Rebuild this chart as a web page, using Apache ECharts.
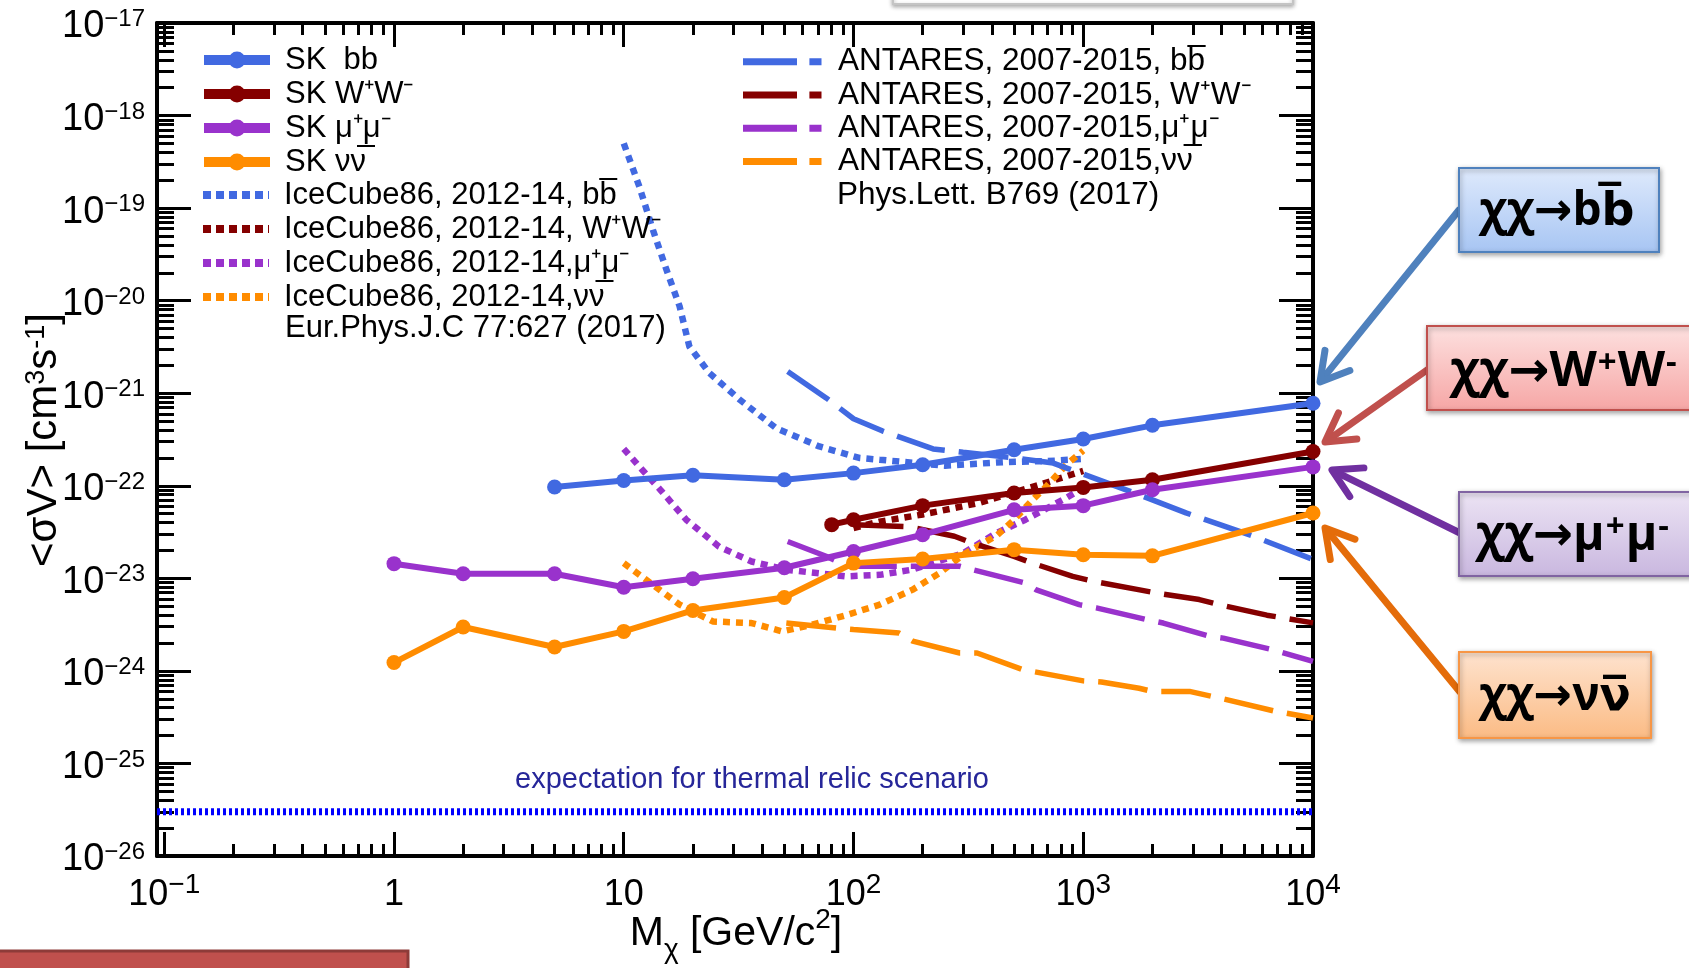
<!DOCTYPE html>
<html><head><meta charset="utf-8">
<script src="https://cdn.jsdelivr.net/npm/echarts@6/dist/echarts.min.js"></script>
<style>html,body{margin:0;padding:0;background:#fff}#c{width:1689px;height:968px}</style>
</head><body><div id="c"></div>
<script>
// ---------------- data ----------------
const skBbMass = [5, 10, 20, 50, 100, 200, 500, 1000, 2000, 10000];
const skBb = [9.7e-23, 1.14e-22, 1.3e-22, 1.16e-22, 1.37e-22, 1.69e-22, 2.45e-22, 3.2e-22, 4.5e-22, 7.8e-22];
const skWwMass = [80.4, 100, 200, 500, 1000, 2000, 10000];
const skWw = [3.8e-23, 4.3e-23, 6.1e-23, 8.35e-23, 9.6e-23, 1.16e-22, 2.35e-22];
const skLepMass = [1, 2, 5, 10, 20, 50, 100, 200, 500, 1000, 2000, 10000];
const skMuMu = [1.44e-23, 1.12e-23, 1.12e-23, 8.0e-24, 9.9e-24, 1.3e-23, 1.95e-23, 2.96e-23, 5.5e-23, 6.1e-23, 9.06e-23, 1.6e-22];
const skNuNu = [1.23e-24, 2.98e-24, 1.81e-24, 2.67e-24, 4.5e-24, 6.2e-24, 1.46e-23, 1.62e-23, 2.04e-23, 1.8e-23, 1.75e-23, 5.08e-23];

const icBbMass = [10, 11.7, 13.4, 15.3, 17.5, 19.3, 23.6, 32, 46, 71, 106, 130, 250, 450, 700, 1000];
const icBb = [5.0e-19, 1.7e-19, 5.8e-20, 2.2e-20, 8.7e-21, 3.2e-21, 1.65e-21, 8.5e-22, 4.2e-22, 2.66e-22, 2.0e-22, 1.91e-22, 1.65e-22, 1.8e-22, 1.85e-22, 1.95e-22];
const icWwMass = [100, 130, 200, 350, 650, 1000];
const icWw = [3.5e-23, 4.1e-23, 4.9e-23, 6.5e-23, 1.03e-22, 1.45e-22];
const icMuMuMass = [10, 12, 14.4, 18.7, 26, 36, 51, 93, 130, 180, 300, 420, 560, 820, 1000];
const icMuMu = [2.5e-22, 1.5e-22, 9.1e-23, 4.3e-23, 2.2e-23, 1.52e-23, 1.24e-23, 1.05e-23, 1.09e-23, 1.24e-23, 1.87e-23, 3.1e-23, 4.3e-23, 7.1e-23, 9.5e-23];
const icNuNuMass = [10, 13.4, 17.5, 24.4, 36, 49, 66, 93, 130, 180, 237, 300, 420, 500, 600, 690, 845, 1000];
const icNuNu = [1.46e-23, 8.5e-24, 5.2e-24, 3.42e-24, 3.29e-24, 2.67e-24, 3.15e-24, 4.0e-24, 5.2e-24, 7.5e-24, 1.14e-23, 1.8e-23, 2.9e-23, 4.3e-23, 7.0e-23, 9.8e-23, 1.69e-22, 2.4e-22];

const antBbMass = [51.7, 76, 100, 134, 222, 300, 500, 740, 1600, 2800, 5500, 10000];
const antBb = [1.72e-21, 8.9e-22, 5.3e-22, 3.9e-22, 2.5e-22, 2.3e-22, 2.0e-22, 1.76e-22, 8.7e-23, 5.1e-23, 2.85e-23, 1.6e-23];
const antWwMass = [100, 175, 275, 330, 500, 600, 900, 1100, 1760, 2100, 3200, 3900, 6300, 10000];
const antWw = [3.8e-23, 3.6e-23, 2.85e-23, 2.4e-23, 1.73e-23, 1.46e-23, 1.05e-23, 9.3e-24, 7.5e-24, 6.9e-24, 5.9e-24, 5.2e-24, 4.0e-24, 3.3e-24];
const antMuMuMass = [51.7, 76, 95, 290, 330, 560, 625, 960, 1140, 1900, 2230, 3550, 4070, 6700, 10000];
const antMuMu = [2.5e-23, 1.73e-23, 1.35e-23, 1.35e-23, 1.24e-23, 8.9e-24, 7.5e-24, 5.2e-24, 4.8e-24, 3.57e-24, 3.29e-24, 2.36e-24, 2.26e-24, 1.69e-24, 1.27e-24];
const antNuNuMass = [51, 84, 100, 158, 181, 290, 345, 545, 625, 1000, 1200, 1750, 2000, 2900, 4200, 6900, 10000];
const antNuNu = [3.3e-24, 2.9e-24, 2.8e-24, 2.56e-24, 2.1e-24, 1.56e-24, 1.56e-24, 1.03e-24, 9.7e-25, 7.8e-25, 7.6e-25, 6.5e-25, 6.0e-25, 6.0e-25, 4.9e-25, 3.65e-25, 3.1e-25];

const thermalMass = [0.093, 10000];
const thermalValue = [3e-26, 3e-26];

// axis ranges and tick values
const X_MIN = 0.093, X_MAX = 10000;
const Y_MIN = 1e-26, Y_MAX = 1e-17;
const xMajorExp = [-1, 0, 1, 2, 3, 4];
const yMajorExp = [-26, -25, -24, -23, -22, -21, -20, -19, -18, -17];
const minorMult = [2, 3, 4, 5, 6, 7, 8, 9];

// ---------------- helpers ----------------
const FONT = "'Liberation Sans', Arial, Helvetica, sans-serif";
const BOXFONT = "'Open Sans', 'DejaVu Sans', sans-serif";
const pairs = (xs, ys) => xs.map((x, i) => [x, ys[i]]);
const xMajor = xMajorExp.map(e => parseFloat('1e' + e));
const yMajor = yMajorExp.map(e => parseFloat('1e' + e));
const xMinor = [], yMinor = [];
xMajorExp.slice(0, -1).forEach(e => minorMult.forEach(m => xMinor.push(parseFloat(m + 'e' + e))));
yMajorExp.slice(0, -1).forEach(e => minorMult.forEach(m => yMinor.push(parseFloat(m + 'e' + e))));
const MINUS = '\u2212';
const expStr = e => (e < 0 ? MINUS + (-e) : String(e));

const C_BLUE = '#4169e1', C_RED = '#850000', C_PURPLE = '#9932cc', C_ORANGE = '#ff8c00';

const xLabelFmt = v => {
  const e = Math.round(Math.log10(v));
  if (e === 0) return '{b|1}';
  if (e === 1) return '{b|10}';
  return '{b|10}{s|' + expStr(e) + '}';
};
const yLabelFmt = v => '{b|10}{s|' + expStr(Math.round(Math.log10(v))) + '}';

const tickStyle = { color: '#000', width: 3 };
function xAxisDef(pos, major, showLabel) {
  const a = {
    type: 'log', min: X_MIN, max: X_MAX, position: pos, gridIndex: 0,
    axisLine: { show: major, onZero: false, lineStyle: { color: '#000', width: 4 } },
    axisTick: { show: true, inside: true, length: major ? 24 : 12, lineStyle: tickStyle, customValues: major ? xMajor : xMinor },
    axisLabel: { show: false },
    splitLine: { show: false }, minorTick: { show: false }, minorSplitLine: { show: false }
  };
  if (showLabel) {
    a.axisLabel = {
      show: true, customValues: xMajor, margin: 15, formatter: xLabelFmt,
      rich: {
        b: { fontFamily: FONT, fontSize: 36, lineHeight: 48, color: '#000' },
        s: { fontFamily: FONT, fontSize: 28, lineHeight: 28, verticalAlign: 'top', padding: [0, 0, 20, 0], color: '#000' }
      }
    };
  }
  return a;
}
function yAxisDef(pos, major, showLabel) {
  const a = {
    type: 'log', min: Y_MIN, max: Y_MAX, position: pos, gridIndex: 0,
    axisLine: { show: major, onZero: false, lineStyle: { color: '#000', width: 4 } },
    axisTick: { show: true, inside: true, length: major ? 34 : 17, lineStyle: tickStyle, customValues: major ? yMajor : yMinor },
    axisLabel: { show: false },
    splitLine: { show: false }, minorTick: { show: false }, minorSplitLine: { show: false }
  };
  if (showLabel) {
    a.axisLabel = {
      show: true, customValues: yMajor, margin: 12, formatter: yLabelFmt,
      rich: {
        b: { fontFamily: FONT, fontSize: 38, lineHeight: 31, padding: [8, 0, 0, 0], color: '#000' },
        s: { fontFamily: FONT, fontSize: 24, lineHeight: 22, verticalAlign: 'top', padding: [0, 0, 17, 0], color: '#000' }
      }
    };
  }
  return a;
}

function skSeries(name, xs, ys, color) {
  return { name, type: 'line', xAxisIndex: 0, yAxisIndex: 0, data: pairs(xs, ys),
    symbol: 'circle', symbolSize: 15, showSymbol: true,
    lineStyle: { color, width: 6 }, itemStyle: { color }, z: 5, animation: false };
}
function dotSeries(name, xs, ys, color) {
  return { name, type: 'line', xAxisIndex: 0, yAxisIndex: 0, data: pairs(xs, ys), symbol: 'none',
    lineStyle: { color, width: 6.5, type: [7, 6], cap: 'butt' }, itemStyle: { color }, z: 3, animation: false };
}
function dashSeries(name, xs, ys, color) {
  return { name, type: 'line', xAxisIndex: 0, yAxisIndex: 0, data: pairs(xs, ys), symbol: 'none',
    lineStyle: { color, width: 5.5, type: [50, 14], cap: 'butt' }, itemStyle: { color }, z: 4, animation: false };
}

const series = [
  { name: 'thermal', type: 'line', xAxisIndex: 0, yAxisIndex: 0, data: pairs(thermalMass, thermalValue), symbol: 'none',
    lineStyle: { color: '#0000ff', width: 7, type: [3, 3], cap: 'butt' }, z: 2, animation: false },
  dashSeries('ANT bb', antBbMass, antBb, C_BLUE),
  dashSeries('ANT WW', antWwMass, antWw, C_RED),
  dashSeries('ANT MuMu', antMuMuMass, antMuMu, C_PURPLE),
  dashSeries('ANT NuNu', antNuNuMass, antNuNu, C_ORANGE),
  dotSeries('IC bb', icBbMass, icBb, C_BLUE),
  dotSeries('IC WW', icWwMass, icWw, C_RED),
  dotSeries('IC MuMu', icMuMuMass, icMuMu, C_PURPLE),
  dotSeries('IC NuNu', icNuNuMass, icNuNu, C_ORANGE),
  skSeries('SK bb', skBbMass, skBb, C_BLUE),
  skSeries('SK WW', skWwMass, skWw, C_RED),
  skSeries('SK MuMu', skLepMass, skMuMu, C_PURPLE),
  skSeries('SK NuNu', skLepMass, skNuNu, C_ORANGE)
];

const BAR = '\u0305', SP = '\u207a', SM = '\u207b';
const legendText = {
  'SK bb': 'SK  bb',
  'SK WW': 'SK W' + SP + 'W' + SM,
  'SK MuMu': 'SK \u03bc' + SP + '\u03bc' + SM,
  'SK NuNu': 'SK \u03bd\u03bd' + BAR,
  'IC bb': 'IceCube86, 2012-14, bb' + BAR,
  'IC WW': 'IceCube86, 2012-14, W' + SP + 'W' + SM,
  'IC MuMu': 'IceCube86, 2012-14,\u03bc' + SP + '\u03bc' + SM,
  'IC NuNu': 'IceCube86, 2012-14,\u03bd\u03bd' + BAR,
  'ANT bb': 'ANTARES, 2007-2015, bb' + BAR,
  'ANT WW': 'ANTARES, 2007-2015, W' + SP + 'W' + SM,
  'ANT MuMu': 'ANTARES, 2007-2015,\u03bc' + SP + '\u03bc' + SM,
  'ANT NuNu': 'ANTARES, 2007-2015,\u03bd\u03bd' + BAR
};
function legendDef(names, left, top, itemWidth, fs, lh, lineStyle, hideSymbol, itemHeight, padLeft) {
  return {
    data: names, left, top, orient: 'vertical', itemWidth, itemHeight: itemHeight || 14, itemGap: 0, padding: 0,
    selectedMode: false, lineStyle, itemStyle: hideSymbol ? { opacity: 0 } : {},
    formatter: n => legendText[n],
    textStyle: { fontFamily: FONT, fontSize: fs, lineHeight: lh, color: '#000', padding: [0, 0, 0, padLeft] }
  };
}

function arrow(x1, y1, x2, y2, color) {
  const dx = x2 - x1, dy = y2 - y1, L = Math.hypot(dx, dy), bx = -dx / L, by = -dy / L;
  const a = Math.PI / 6, h = 32;
  const p1 = [x2 + h * (bx * Math.cos(a) - by * Math.sin(a)), y2 + h * (bx * Math.sin(a) + by * Math.cos(a))];
  const p2 = [x2 + h * (bx * Math.cos(-a) - by * Math.sin(-a)), y2 + h * (bx * Math.sin(-a) + by * Math.cos(-a))];
  return [
    { type: 'polyline', z: 20, shape: { points: [[x1, y1], [x2 + 3 * bx, y2 + 3 * by]] }, style: { stroke: color, lineWidth: 7, lineCap: 'round', fill: null } },
    { type: 'polyline', z: 20, shape: { points: [p1, [x2, y2], p2] }, style: { stroke: color, lineWidth: 7, lineCap: 'round', lineJoin: 'round', fill: null } }
  ];
}
function box(x, y, w, h, c1, c2, stroke) {
  return { type: 'rect', z: 21, shape: { x, y, width: w, height: h },
    style: { fill: { type: 'linear', x: 0, y: 0, x2: 0, y2: 1, colorStops: [{ offset: 0, color: c1 }, { offset: 1, color: c2 }] },
      stroke, lineWidth: 2, shadowBlur: 5, shadowColor: 'rgba(0,0,0,0.35)', shadowOffsetX: 1, shadowOffsetY: 2 } };
}
function boxRich(fs) {
  return {
    t: { fontFamily: BOXFONT, fontWeight: 'bold', fontSize: fs, lineHeight: 50, color: '#000' },
    u: { fontFamily: BOXFONT, fontWeight: 'bold', fontSize: Math.round(fs * 0.68), lineHeight: 28, verticalAlign: 'top', padding: [0, 1, 22, 1], color: '#000' }
  };
}
function boxText(x, y, text, fs) {
  return { type: 'text', z: 22, style: { x, y, text, align: 'center', verticalAlign: 'middle', rich: boxRich(fs) } };
}

// x-axis title built from measured pieces (main / subscript / superscript)
const measureCtx = document.createElement('canvas').getContext('2d');
function textWidth(t, fs) { measureCtx.font = fs + "px 'Liberation Sans', Arial, sans-serif"; return measureCtx.measureText(t).width; }
function xTitle(cx, baseline) {
  const parts = [
    { t: 'M', fs: 41, dy: 0 },
    { t: '\u03c7', fs: 28, dy: 12 },
    { t: ' [GeV/c', fs: 41, dy: 0 },
    { t: '2', fs: 28, dy: -18 },
    { t: ']', fs: 41, dy: 0 }
  ];
  const widths = parts.map(p => textWidth(p.t, p.fs));
  let x = cx - widths.reduce((a, b) => a + b, 0) / 2;
  return parts.map((p, i) => {
    const el = { type: 'text', z: 10, style: { x, y: baseline + p.dy - 0.35 * p.fs, text: p.t, align: 'left', verticalAlign: 'middle',
      fontFamily: FONT, fontSize: p.fs, fill: '#000' } };
    x += widths[i];
    return el;
  });
}

const graphics = [].concat(
  // decorative slide elements
  [{ type: 'rect', z: 1, shape: { x: 893, y: -32, width: 400, height: 36 },
     style: { fill: '#fff', stroke: '#c4c4c4', lineWidth: 2, shadowBlur: 4, shadowColor: 'rgba(0,0,0,0.3)', shadowOffsetY: 2 } },
   { type: 'rect', z: 1, shape: { x: -5, y: 951, width: 413, height: 40 },
     style: { fill: '#c0504d', stroke: '#8e3b39', lineWidth: 3 } }],
  arrow(1459, 210, 1320, 382, '#4f81bd'),
  arrow(1427, 370, 1325, 442, '#c0504d'),
  arrow(1460, 533, 1332, 470, '#7030a0'),
  arrow(1460, 692, 1325, 528, '#e46c0a'),
  [box(1459, 168, 200, 84, '#dfeafc', '#a7c5f3', '#4f81bd'),
   box(1427, 326, 275, 84, '#fde1e0', '#f6a6a5', '#c0504d'),
   box(1459, 492, 245, 84, '#ece4f4', '#c9b7df', '#8064a2'),
   box(1459, 652, 192, 86, '#fee3cf', '#fbbb84', '#f79646'),
   boxText(1557, 212, '{t|\u03c7\u03c7\u2192bb' + BAR + '}', 46),
   boxText(1564, 372, '{t|\u03c7\u03c7\u2192W}{u|+}{t|W}{u|-}', 49),
   boxText(1573, 536, '{t|\u03c7\u03c7\u2192\u03bc}{u|+}{t|\u03bc}{u|-}', 48),
   boxText(1555, 697, '{t|\u03c7\u03c7\u2192\u03bd\u03bd' + BAR + '}', 46)],
  // axis titles
  [{ type: 'text', z: 10, x: 44, y: 440, rotation: Math.PI / 2,
     style: { x: 0, y: 0, text: '{m|<\u03c3V> [cm}{s|3}{m|s}{s|-1}{m|]}', align: 'center', verticalAlign: 'middle',
       rich: {
         m: { fontFamily: FONT, fontSize: 42, lineHeight: 42, color: '#000' },
         s: { fontFamily: FONT, fontSize: 27, lineHeight: 27, verticalAlign: 'top', padding: [0, 0, 44, 0], color: '#000' }
       } } }],
  xTitle(736, 948),
  // text annotations in plot
  [{ type: 'text', z: 10, style: { x: 752, y: 780, text: 'expectation for thermal relic scenario', align: 'center', verticalAlign: 'middle',
      fontFamily: FONT, fontSize: 29, fill: '#262699' } },
   { type: 'text', z: 10, style: { x: 285, y: 328, text: 'Eur.Phys.J.C 77:627 (2017)', align: 'left', verticalAlign: 'middle',
      fontFamily: FONT, fontSize: 31, fill: '#000' } },
   { type: 'text', z: 10, style: { x: 837, y: 195, text: 'Phys.Lett. B769 (2017)', align: 'left', verticalAlign: 'middle',
      fontFamily: FONT, fontSize: 31.5, fill: '#000' } }]
);

const option = {
  animation: false,
  backgroundColor: '#ffffff',
  grid: { left: 157, right: 376, top: 23, bottom: 112, containLabel: false, outerBoundsMode: 'none' },
  xAxis: [xAxisDef('bottom', true, true), xAxisDef('bottom', false, false), xAxisDef('top', true, false), xAxisDef('top', false, false)],
  yAxis: [yAxisDef('left', true, true), yAxisDef('left', false, false), yAxisDef('right', true, false), yAxisDef('right', false, false)],
  legend: [
    legendDef(['SK bb', 'SK WW', 'SK MuMu', 'SK NuNu'], 199, 43, 66, 31, 34, { width: 10 }, false, 21, 10),
    legendDef(['IC bb', 'IC WW', 'IC MuMu', 'IC NuNu'], 199, 178, 66, 31, 34, { width: 8, type: [8, 5] }, true, 14, 10),
    legendDef(['ANT bb', 'ANT WW', 'ANT MuMu', 'ANT NuNu'], 739.5, 45, 78.5, 31.5, 33.3, { width: 7, type: [54, 12.4] }, true, 14, 11.5)
  ],
  series,
  graphic: graphics
};

const chart = echarts.init(document.getElementById('c'), null, { renderer: 'canvas', width: 1689, height: 968 });
chart.setOption(option);
</script></body></html>
